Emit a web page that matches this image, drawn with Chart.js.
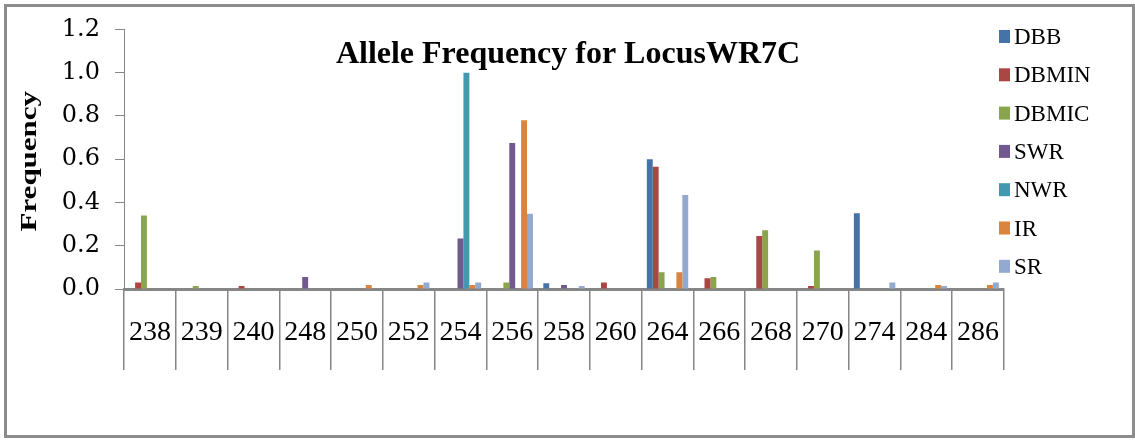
<!DOCTYPE html>
<html>
<head>
<meta charset="utf-8">
<script src="https://cdn.jsdelivr.net/npm/chart.js@4/dist/chart.umd.min.js"></script>
<style>
  html, body { margin: 0; padding: 0; background: #fff; }
  #wrap { width: 1135px; height: 440px; position: relative; }
</style>
</head>
<body>
<div id="wrap"><canvas id="c" width="1135" height="440"></canvas></div>
<script>
const categories = ['238','239','240','248','250','252','254','256','258','260','264','266','268','270','274','284','286'];
const DBB   = [0, 0, 0, 0, 0, 0, 0, 0, 0.027, 0, 0.6, 0, 0, 0, 0.35, 0, 0];
const DBMIN = [0.03, 0, 0.014, 0, 0, 0, 0, 0, 0, 0.03, 0.565, 0.05, 0.245, 0.014, 0, 0, 0];
const DBMIC = [0.34, 0.014, 0, 0, 0, 0, 0, 0.03, 0, 0, 0.077, 0.055, 0.272, 0.178, 0, 0, 0];
const SWR   = [0, 0, 0, 0.055, 0, 0, 0.233, 0.675, 0.018, 0, 0, 0, 0, 0, 0, 0, 0];
const NWR   = [0, 0, 0, 0, 0, 0, 1.0, 0, 0, 0, 0, 0, 0, 0, 0, 0, 0];
const IR    = [0, 0, 0, 0, 0.018, 0.018, 0.018, 0.78, 0, 0, 0.077, 0, 0, 0, 0, 0.018, 0.018];
const SR    = [0, 0, 0, 0, 0, 0.03, 0.03, 0.348, 0.014, 0, 0.435, 0, 0, 0, 0.03, 0.014, 0.03];
const seriesNames = ['DBB','DBMIN','DBMIC','SWR','NWR','IR','SR'];
const seriesData = [DBB, DBMIN, DBMIC, SWR, NWR, IR, SR];
const seriesColors = ['#4572A7','#AA4643','#89A54E','#71588F','#4198AF','#DB843D','#93A9CF'];
const titleText = 'Allele Frequency for LocusWR7C';
const yTitle = 'Frequency';

const AXIS = '#868686';

const framePlugin = {
  id: 'frame',
  beforeDraw(chart) {
    const ctx = chart.ctx;
    ctx.save();
    ctx.fillStyle = '#fff';
    ctx.fillRect(0, 0, chart.width, chart.height);
    ctx.strokeStyle = '#8c8c8c';
    ctx.lineWidth = 3;
    ctx.strokeRect(5.5, 5.5, 1128, 431);
    ctx.restore();
  }
};

const titlePlugin = {
  id: 'innerTitle',
  afterDraw(chart) {
    const ctx = chart.ctx;
    const a = chart.chartArea;
    ctx.save();
    ctx.font = 'bold 32px "Liberation Serif"';
    ctx.fillStyle = '#000';
    ctx.textAlign = 'center';
    ctx.textBaseline = 'alphabetic';
    ctx.fillText(titleText, (a.left + a.right) / 2 + 4, 63);
    ctx.restore();
    // y-axis title (condensed in thickness like the reference)
    ctx.save();
    ctx.translate(30, (a.top + a.bottom) / 2 + 2);
    ctx.rotate(-Math.PI / 2);
    ctx.scale(1, 0.74);
    ctx.font = 'bold 31px "Liberation Serif"';
    ctx.fillStyle = '#000';
    ctx.textAlign = 'center';
    ctx.textBaseline = 'middle';
    ctx.fillText(yTitle, 0, 0);
    ctx.restore();
  }
};

const legendPlugin = {
  id: 'sideLegend',
  afterDraw(chart) {
    const ctx = chart.ctx;
    ctx.save();
    ctx.font = '23px "Liberation Serif"';
    ctx.textBaseline = 'middle';
    ctx.textAlign = 'left';
    chart.data.datasets.forEach((ds, i) => {
      const cy = 37 + i * 38.3;
      ctx.fillStyle = ds.backgroundColor;
      ctx.fillRect(999, cy - 7, 11, 13);
      ctx.fillStyle = '#000';
      ctx.fillText(ds.label, 1014, cy + 1);
    });
    ctx.restore();
  }
};

new Chart(document.getElementById('c'), {
  type: 'bar',
  data: {
    labels: categories,
    datasets: seriesNames.map((n, i) => ({
      label: n,
      data: seriesData[i],
      backgroundColor: seriesColors[i],
      borderWidth: 0,
      categoryPercentage: 0.8,
      barPercentage: 1.0
    }))
  },
  options: {
    responsive: false,
    animation: false,
    devicePixelRatio: 1,
    layout: { padding: { left: 10, right: 131, top: 25, bottom: 70 } },
    plugins: {
      legend: { display: false },
      title: { display: false },
      tooltip: { enabled: false }
    },
    scales: {
      x: {
        type: 'category',
        offset: true,
        grid: {
          offset: true,
          drawOnChartArea: false,
          drawTicks: true,
          tickLength: 81,
          color: AXIS,
          lineWidth: 1.5
        },
        border: { color: AXIS, width: 3 },
        ticks: {
          autoSkip: false,
          maxRotation: 0,
          minRotation: 0,
          padding: -54,
          color: '#000',
          font: { family: '"Liberation Serif"', size: 28 }
        },
        afterFit(scale) { scale.height = 81; }
      },
      y: {
        min: 0,
        max: 1.2,
        ticks: {
          stepSize: 0.2,
          padding: 15,
          color: '#000',
          font: { family: '"DejaVu Serif"', size: 24 },
          callback: (v) => Number(v).toFixed(1)
        },
        grid: {
          drawOnChartArea: false,
          drawTicks: true,
          tickLength: 9,
          color: AXIS,
          lineWidth: 1
        },
        border: { color: AXIS, width: 1 },
        title: { display: false },
        afterFit(scale) { scale.width = 114; }
      }
    }
  },
  plugins: [framePlugin, titlePlugin, legendPlugin]
});
</script>
</body>
</html>
